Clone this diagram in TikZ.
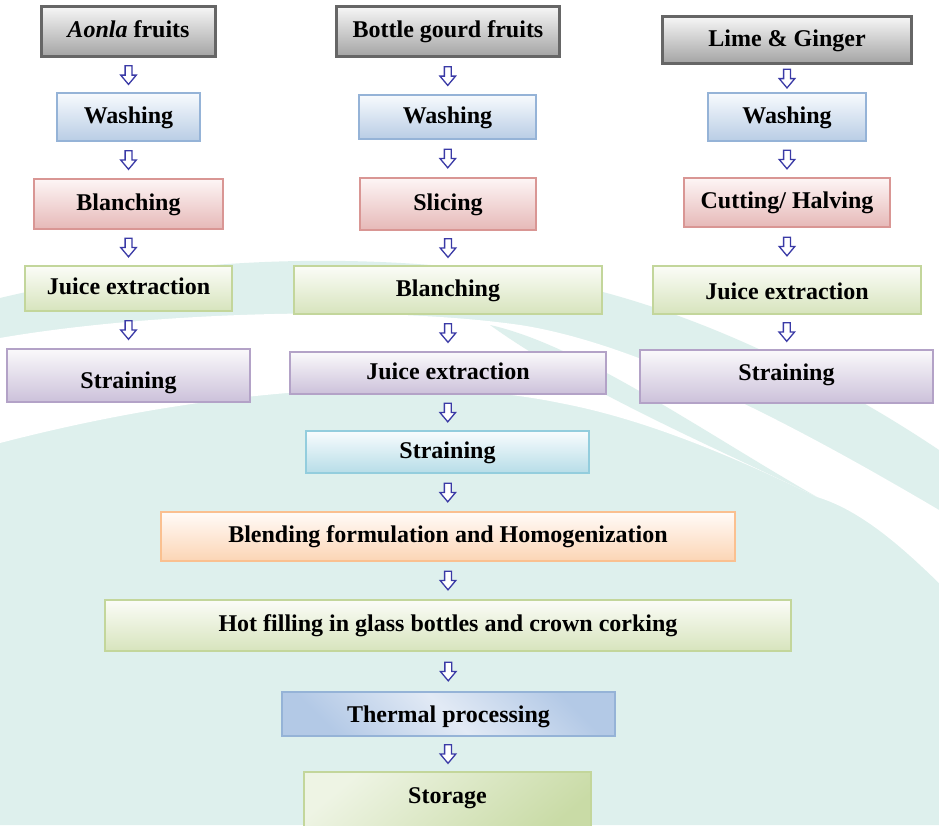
\documentclass[tikz,border=0pt]{standalone}
\usepackage{fontspec}
\setmainfont{Liberation Serif}
\usetikzlibrary{calc}
\definecolor{bgteal}{RGB}{222,240,237}
\definecolor{grayline}{HTML}{666666}\definecolor{graytop}{HTML}{F7F7F7}\definecolor{graybot}{HTML}{A3A3A3}
\definecolor{blueline}{HTML}{95B3D7}\definecolor{bluetop}{HTML}{F7FAFD}\definecolor{bluebot}{HTML}{B9CDE5}
\definecolor{redline}{HTML}{D99694}\definecolor{redtop}{HTML}{FDF5F5}\definecolor{redbot}{HTML}{E6B9B8}
\definecolor{greenline}{HTML}{C3D69B}\definecolor{greentop}{HTML}{FBFCF7}\definecolor{greenbot}{HTML}{D7E4BD}
\definecolor{purpline}{HTML}{B3A2C7}\definecolor{purptop}{HTML}{FAF9FB}\definecolor{purpbot}{HTML}{CCC1DA}
\definecolor{cyanline}{HTML}{93CDDD}\definecolor{cyantop}{HTML}{F8FCFD}\definecolor{cyanbot}{HTML}{B7DDE8}
\definecolor{orangeline}{HTML}{FAC090}\definecolor{orangetop}{HTML}{FFFBF8}\definecolor{orangebot}{HTML}{FCD5B5}
\definecolor{thermdark}{HTML}{B3C9E6}\definecolor{thermlight}{HTML}{E2EAF5}
\definecolor{storlight}{HTML}{EEF4E4}\definecolor{stordark}{HTML}{C9DBA6}
\definecolor{arrowblue}{HTML}{3A3AA6}
\tikzset{
  box/.style={draw, line width=2.4pt, inner sep=0pt, text height=17pt, text depth=5pt,
    font=\fontsize{24}{28}\selectfont\bfseries, text=black},
  graybox/.style={box, draw=grayline, line width=2.8pt, top color=graytop, bottom color=graybot},
  bluebox/.style={box, draw=blueline, top color=bluetop, bottom color=bluebot},
  redbox/.style={box, draw=redline, top color=redtop, bottom color=redbot},
  greenbox/.style={box, draw=greenline, top color=greentop, bottom color=greenbot},
  purpbox/.style={box, draw=purpline, top color=purptop, bottom color=purpbot},
  cyanbox/.style={box, draw=cyanline, top color=cyantop, bottom color=cyanbot},
  orangebox/.style={box, draw=orangeline, top color=orangetop, bottom color=orangebot},
  thermbox/.style={box, draw=blueline, top color=thermdark, bottom color=thermdark, middle color=thermlight, shading angle=-45},
  storbox/.style={box, draw=greenline, top color=storlight, bottom color=stordark, shading angle=40},
  flowarrow/.style={draw=arrowblue, fill=white, line width=1.3pt, line join=miter},
}
\newcommand\bx[7]{\node[#2, minimum width={#5-#3-2.4}, minimum height={#6-#4-2.4}] (#1) at ({(#3+#5)/2},{(#4+#6)/2}) {#7};}
\newcommand\farrow[2]{\path ($(#1.south)!0.5!(#2.north)$) coordinate (m);
  \draw[flowarrow] (m) ++(-3.4,-9.3) -- ++(6.8,0) -- ++(0,9.3) -- ++(4.4,0) -- ++(-7.8,9.3) -- ++(-7.8,-9.3) -- ++(4.4,0) -- cycle;}
\begin{document}
\begin{tikzpicture}[x=1pt,y=-1pt]
\useasboundingbox (0,0) rectangle (939,825);
\clip (0,0) rectangle (939,825);
\fill[white] (0,0) rectangle (939,825);
% background swooshes
\fill[bgteal] (0,298) .. controls (150,262) and (350,245) .. (550,280) .. controls (700,308) and (850,390) .. (939,450) -- (939,825) -- (0,825) -- cycle;
\fill[white] (0,338) .. controls (150,312) and (380,305) .. (520,325) .. controls (650,345) and (820,440) .. (939,510) -- (939,583) .. controls (900,545) and (860,510) .. (817,497) .. controls (740,460) and (650,420) .. (560,403) .. controls (450,380) and (250,378) .. (0,443) -- cycle;
\fill[bgteal] (490,325) .. controls (580,345) and (700,430) .. (817,497) .. controls (720,450) and (580,390) .. (490,325) -- cycle;
% column 1
\bx{a1}{graybox}{40}{5}{217}{58}{\textit{Aonla} fruits}
\bx{a2}{bluebox}{56}{92}{201}{142}{Washing}
\bx{a3}{redbox}{33}{178}{224}{230}{Blanching}
\bx{a4}{greenbox}{24}{265}{233}{312}{Juice extraction}
\bx{a5}{purpbox}{6}{348}{251}{403}{\raisebox{-7pt}{Straining}}
% column 2
\bx{b1}{graybox}{335}{5}{561}{58}{Bottle gourd fruits}
\bx{b2}{bluebox}{358}{94}{537}{140}{Washing}
\bx{b3}{redbox}{359}{177}{537}{231}{Slicing}
\bx{b4}{greenbox}{293}{265}{603}{315}{Blanching}
\bx{b5}{purpbox}{289}{351}{607}{395}{Juice extraction}
\bx{b6}{cyanbox}{305}{430}{590}{474}{Straining}
\bx{b7}{orangebox}{160}{511}{736}{562}{Blending formulation and Homogenization}
\bx{b8}{greenbox}{104}{599}{792}{652}{Hot filling in glass bottles and crown corking}
\bx{b9}{thermbox}{281}{691}{616}{737}{\raisebox{-2pt}{Thermal processing}}
\bx{b10}{storbox}{303}{771}{592}{840}{\raisebox{8pt}{Storage}}
% column 3
\bx{l1}{graybox}{661}{15}{913}{65}{Lime \& Ginger}
\bx{l2}{bluebox}{707}{92}{867}{142}{Washing}
\bx{l3}{redbox}{683}{177}{891}{228}{Cutting/ Halving}
\bx{l4}{greenbox}{652}{265}{922}{315}{\raisebox{-3pt}{Juice extraction}}
\bx{l5}{purpbox}{639}{349}{934}{404}{\raisebox{2pt}{Straining}}
% arrows
\farrow{a1}{a2}\farrow{a2}{a3}\farrow{a3}{a4}\farrow{a4}{a5}
\farrow{b1}{b2}\farrow{b2}{b3}\farrow{b3}{b4}\farrow{b4}{b5}\farrow{b5}{b6}
\farrow{b6}{b7}\farrow{b7}{b8}\farrow{b8}{b9}\farrow{b9}{b10}
\farrow{l1}{l2}\farrow{l2}{l3}\farrow{l3}{l4}\farrow{l4}{l5}
\end{tikzpicture}
\end{document}
